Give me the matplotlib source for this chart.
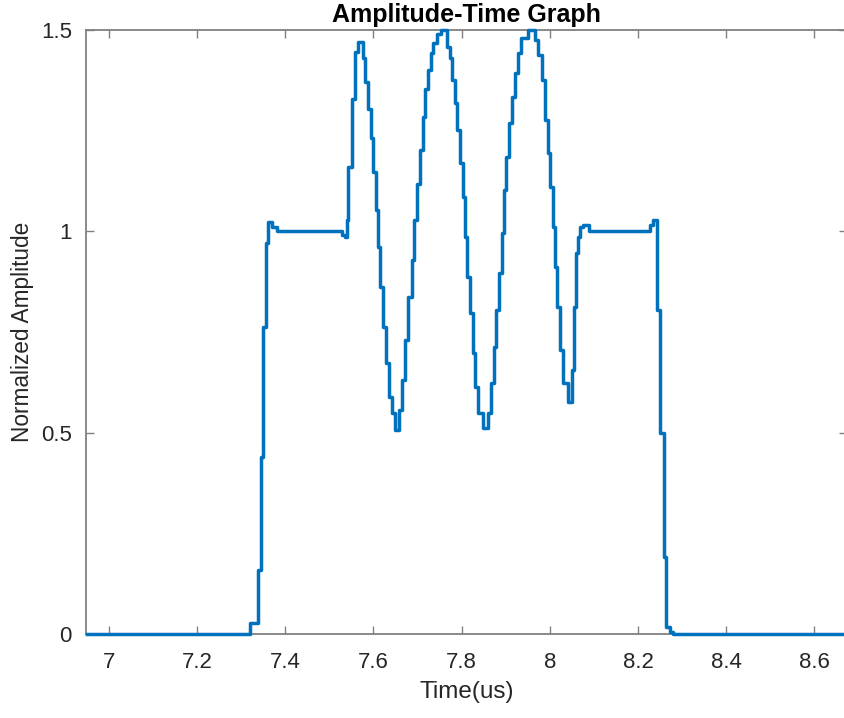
import numpy as np
import matplotlib
matplotlib.use("Agg")
import matplotlib.pyplot as plt
from matplotlib.ticker import FuncFormatter

# sample instants (us) where the staircase changes level, and the level after the change
time_us = [
    6.950, 7.320, 7.339, 7.345, 7.351, 7.357, 7.362, 7.370, 7.381,
    7.517, 7.530, 7.536, 7.540, 7.543, 7.551, 7.558, 7.566, 7.576,
    7.581, 7.589, 7.595, 7.600, 7.606, 7.610, 7.615, 7.621, 7.628,
    7.636, 7.642, 7.649, 7.659, 7.666, 7.672, 7.679, 7.687, 7.693,
    7.698, 7.706, 7.712, 7.717, 7.725, 7.730, 7.736, 7.745, 7.753,
    7.766, 7.774, 7.779, 7.785, 7.790, 7.797, 7.803, 7.808, 7.813,
    7.819, 7.825, 7.831, 7.838, 7.849, 7.861, 7.867, 7.874, 7.879,
    7.886, 7.891, 7.896, 7.902, 7.908, 7.914, 7.921, 7.929, 7.936,
    7.951, 7.967, 7.974, 7.982, 7.989, 7.995, 8.001, 8.007, 8.012,
    8.017, 8.023, 8.031, 8.041, 8.050, 8.055, 8.060, 8.065, 8.069,
    8.076, 8.088, 8.216, 8.228, 8.235, 8.243, 8.244, 8.250, 8.258,
    8.264, 8.273, 8.280, 8.672,
]
amplitude = [
    0.000, 0.027, 0.159, 0.440, 0.763, 0.971, 1.024, 1.010, 1.000,
    1.000, 0.992, 0.987, 1.028, 1.160, 1.330, 1.446, 1.471, 1.430,
    1.372, 1.305, 1.231, 1.148, 1.053, 0.962, 0.862, 0.763, 0.672,
    0.589, 0.548, 0.507, 0.556, 0.631, 0.730, 0.838, 0.929, 1.028,
    1.119, 1.202, 1.285, 1.355, 1.400, 1.443, 1.468, 1.490, 1.500,
    1.458, 1.430, 1.376, 1.319, 1.252, 1.170, 1.085, 0.986, 0.887,
    0.797, 0.698, 0.614, 0.549, 0.512, 0.549, 0.623, 0.713, 0.805,
    0.896, 0.996, 1.103, 1.185, 1.269, 1.334, 1.393, 1.443, 1.480,
    1.500, 1.475, 1.438, 1.376, 1.276, 1.194, 1.110, 1.011, 0.911,
    0.812, 0.705, 0.623, 0.577, 0.656, 0.812, 0.946, 0.986, 1.011,
    1.016, 1.000, 1.000, 1.015, 1.028, 0.987, 0.805, 0.499, 0.192,
    0.018, 0.006, 0.000, 0.000,
]

x_ticks = [7.0, 7.2, 7.4, 7.6, 7.8, 8.0, 8.2, 8.4, 8.6]
y_ticks = [0.0, 0.5, 1.0, 1.5]

plt.rcParams['font.family'] = ['Liberation Sans', 'DejaVu Sans']

fig = plt.figure(figsize=(8.45, 7.18), dpi=100)
ax = fig.add_axes([0.1014, 0.117, 0.901, 0.841])

# line sits on top of the box so the zero level covers the bottom axis like in MATLAB
ax.plot(time_us, amplitude, drawstyle='steps-post', color='#0072BD', lw=2.5,
        zorder=3, clip_on=False)

ax.set_xlim(6.948, 8.674)
ax.set_ylim(0, 1.5)
ax.set_xticks(x_ticks)
ax.set_yticks(y_ticks)
fmt = FuncFormatter(lambda v, p: f"{v:g}")
ax.xaxis.set_major_formatter(fmt)
ax.yaxis.set_major_formatter(fmt)

for s in ax.spines.values():
    s.set_color('#808080')
    s.set_linewidth(1.3)
ax.tick_params(direction='in', length=6, width=1, color='#808080',
               top=True, right=True, labelsize=16, labelcolor='#262626')
ax.tick_params(axis='x', pad=13)
ax.tick_params(axis='y', pad=10)

ax.set_xlabel('Time(us)', fontsize=17.5, color='#262626', labelpad=6)
ax.set_ylabel('Normalized Amplitude', fontsize=16.3, color='#262626', labelpad=5)
ax.set_title('Amplitude-Time Graph', fontsize=18, fontweight='bold', pad=6)

fig.savefig('out.png', dpi=100)
